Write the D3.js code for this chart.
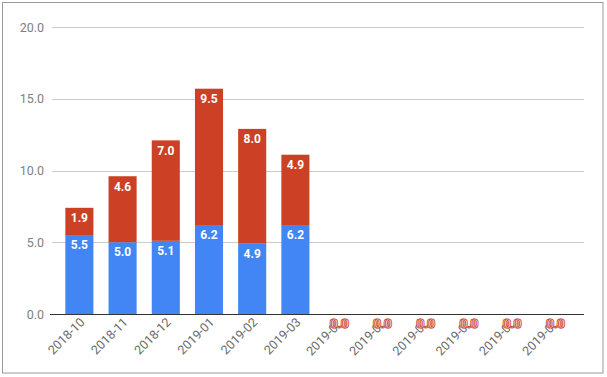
<!DOCTYPE html>
<html><head><meta charset="utf-8">
<script src="https://cdn.jsdelivr.net/npm/d3@7"></script>
<style>body{margin:0;background:#fff}svg{display:block;font-family:Roboto,Arial,sans-serif}</style>
</head><body><svg id="c" width="607" height="377"></svg>
<script>
const categories = ["2018-10","2018-11","2018-12","2019-01","2019-02","2019-03","2019-04","2019-05","2019-06","2019-07","2019-08","2019-09"];
const tickLabels = ["2018-10","2018-11","2018-12","2019-01","2019-02","2019-03","2019-0…","2019-0…","2019-0…","2019-0…","2019-0…","2019-0…"];
const seriesA = [5.5,5.0,5.1,6.2,4.9,6.2,0,0,0,0,0,0];
const seriesB = [1.9,4.6,7.0,9.5,8.0,4.9,0,0,0,0,0,0];
const yTicks = [0,5,10,15,20];
const colors = ["#4285f4","#cc4125"];

const svg = d3.select("#c");
svg.append("rect").attr("x",2.5).attr("y",2.5).attr("width",600.5).attr("height",370.5)
  .attr("fill","none").attr("stroke","#9a9a9a");

const x = d3.scaleBand().domain(categories).range([50,584]).paddingInner(0.35).paddingOuter(0.355);
const y = d3.scaleLinear().domain([0,20]).range([314,27]);

// grid
svg.append("g").selectAll("line").data(yTicks.filter(d=>d>0)).join("line")
  .attr("x1",52).attr("x2",584).attr("y1",d=>Math.round(y(d))+0.5).attr("y2",d=>Math.round(y(d))+0.5)
  .attr("stroke","#cccccc");
svg.append("g").selectAll("text").data(yTicks).join("text")
  .attr("x",44).attr("y",d=>y(d)+4.5).attr("text-anchor","end")
  .attr("font-size",12.5).attr("fill","#808080").text(d=>d.toFixed(1));

const stacked = categories.map((c,i)=>({c, a:seriesA[i], b:seriesB[i]}));
const g = svg.append("g");
g.selectAll("rect.a").data(stacked).join("rect").attr("class","a")
  .attr("x",d=>x(d.c)).attr("width",x.bandwidth())
  .attr("y",d=>y(d.a)).attr("height",d=>y(0)-y(d.a)).attr("fill",colors[0]);
g.selectAll("rect.b").data(stacked).join("rect").attr("class","b")
  .attr("x",d=>x(d.c)).attr("width",x.bandwidth())
  .attr("y",d=>y(d.a+d.b)).attr("height",d=>y(d.a)-y(d.a+d.b)).attr("fill",colors[1]);

// baseline
svg.append("line").attr("x1",50).attr("x2",584).attr("y1",y(0)+0.5).attr("y2",y(0)+0.5).attr("stroke","#333");

// labels
const nz = stacked.filter(d=>d.a>0);
g.selectAll("text.la").data(nz).join("text").attr("class","la")
  .attr("x",d=>x(d.c)+x.bandwidth()/2).attr("y",d=>y(d.a)+14)
  .attr("text-anchor","middle").attr("font-size",12).attr("font-weight","bold").attr("fill","#fff")
  .text(d=>d.a.toFixed(1));
g.selectAll("text.lb").data(nz).join("text").attr("class","lb")
  .attr("x",d=>x(d.c)+x.bandwidth()/2).attr("y",d=>y(d.a+d.b)+14.5)
  .attr("text-anchor","middle").attr("font-size",12).attr("font-weight","bold").attr("fill","#fff")
  .text(d=>d.b.toFixed(1));

// x tick labels
svg.append("g").selectAll("text").data(categories).join("text")
  .attr("transform",d=>`translate(${x(d)+x.bandwidth()/2+6},${323}) rotate(-45)`)
  .attr("text-anchor","end").attr("font-size",12.5).attr("fill","#6a6a6a")
  .text((d,i)=>tickLabels[i]);

// zero labels
const zz = stacked.filter(d=>d.a===0);
[0,1].forEach(k=>{
  svg.append("g").selectAll("text").data(zz).join("text")
    .attr("x",d=>x(d.c)+x.bandwidth()/2+k*1.5).attr("y",328)
    .attr("text-anchor","middle").attr("font-size",12.5).attr("font-weight","bold")
    .attr("fill","#fff").attr("fill-opacity",0.85).attr("stroke","#c9402a").attr("stroke-width",0.8)
    .text(d=>(k===0?d.a:d.b).toFixed(1));
});
</script></body></html>
